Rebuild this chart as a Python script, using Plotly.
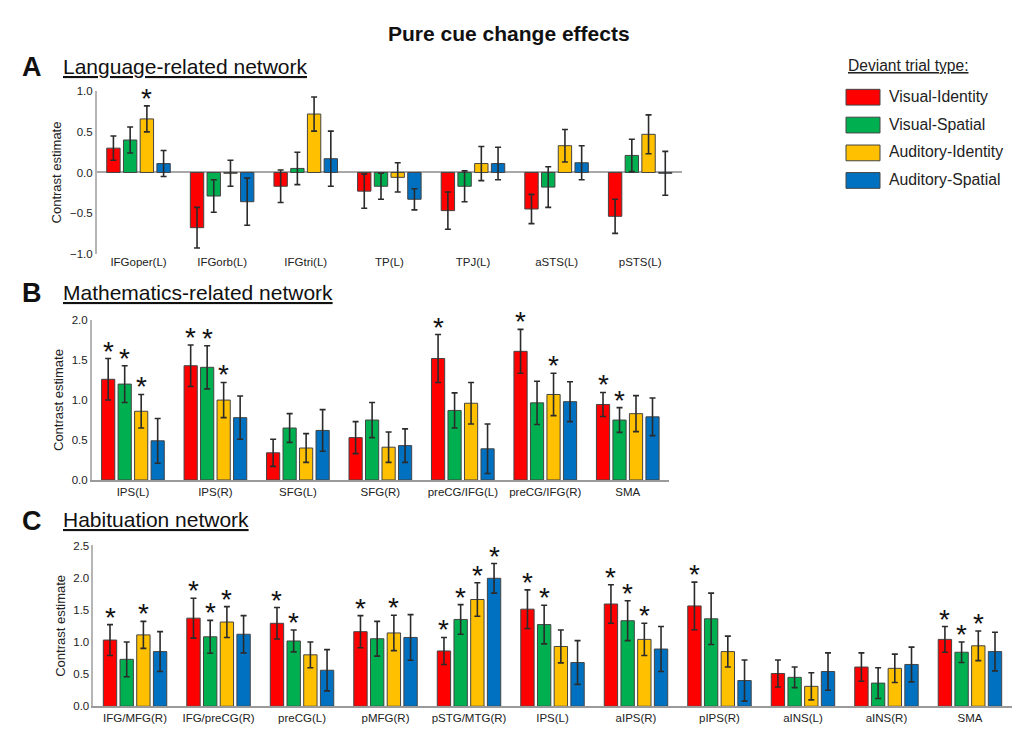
import plotly.graph_objects as go

# Deviant trial types (series) and their colours
conditions = ["Visual-Identity", "Visual-Spatial", "Auditory-Identity", "Auditory-Spatial"]
colors = ["#FF0000", "#00B050", "#FFC000", "#0070C0"]

# A: Language-related network
lang_regions = ["IFGoper(L)", "IFGorb(L)", "IFGtri(L)", "TP(L)", "TPJ(L)", "aSTS(L)", "pSTS(L)"]
lang_mean = [
    [0.30, -0.68, -0.17, -0.23, -0.47, -0.45, -0.54],
    [0.40, -0.29, 0.05, -0.17, -0.17, -0.18, 0.21],
    [0.66, -0.01, 0.72, -0.06, 0.11, 0.33, 0.47],
    [0.11, -0.36, 0.17, -0.33, 0.11, 0.12, -0.01],
]
lang_err = [
    [0.15, 0.25, 0.20, 0.21, 0.23, 0.18, 0.21],
    [0.16, 0.20, 0.20, 0.16, 0.19, 0.25, 0.20],
    [0.16, 0.16, 0.21, 0.18, 0.21, 0.20, 0.24],
    [0.16, 0.29, 0.34, 0.13, 0.20, 0.21, 0.27],
]
lang_sig = [
    [0, 0, 0, 0, 0, 0, 0],
    [0, 0, 0, 0, 0, 0, 0],
    [1, 0, 0, 0, 0, 0, 0],
    [0, 0, 0, 0, 0, 0, 0],
]

# B: Mathematics-related network
math_regions = ["IPS(L)", "IPS(R)", "SFG(L)", "SFG(R)", "preCG/IFG(L)", "preCG/IFG(R)", "SMA"]
math_mean = [
    [1.26, 1.43, 0.34, 0.53, 1.52, 1.61, 0.945],
    [1.20, 1.41, 0.65, 0.75, 0.87, 0.965, 0.75],
    [0.86, 1.00, 0.40, 0.41, 0.96, 1.07, 0.83],
    [0.49, 0.78, 0.62, 0.43, 0.39, 0.98, 0.79],
]
math_err = [
    [0.26, 0.26, 0.17, 0.20, 0.30, 0.275, 0.15],
    [0.23, 0.27, 0.18, 0.22, 0.22, 0.27, 0.155],
    [0.21, 0.22, 0.18, 0.19, 0.26, 0.265, 0.225],
    [0.28, 0.27, 0.26, 0.21, 0.31, 0.25, 0.235],
]
math_sig = [
    [1, 1, 0, 0, 1, 1, 1],
    [1, 1, 0, 0, 0, 0, 1],
    [1, 1, 0, 0, 0, 1, 0],
    [0, 0, 0, 0, 0, 0, 0],
]

# C: Habituation network
hab_regions = ["IFG/MFG(R)", "IFG/preCG(R)", "preCG(L)", "pMFG(R)", "pSTG/MTG(R)", "IPS(L)",
               "aIPS(R)", "pIPS(R)", "aINS(L)", "aINS(R)", "SMA"]
hab_mean = [
    [1.03, 1.37, 1.29, 1.16, 0.86, 1.51, 1.59, 1.56, 0.51, 0.61, 1.04],
    [0.73, 1.08, 1.015, 1.05, 1.35, 1.27, 1.33, 1.36, 0.45, 0.36, 0.84],
    [1.11, 1.31, 0.80, 1.14, 1.66, 0.93, 1.04, 0.85, 0.31, 0.59, 0.94],
    [0.85, 1.12, 0.56, 1.07, 1.99, 0.68, 0.89, 0.40, 0.54, 0.65, 0.85],
]
hab_err = [
    [0.24, 0.31, 0.245, 0.25, 0.21, 0.30, 0.30, 0.37, 0.21, 0.22, 0.20],
    [0.27, 0.255, 0.17, 0.27, 0.23, 0.30, 0.31, 0.40, 0.16, 0.24, 0.16],
    [0.21, 0.24, 0.20, 0.275, 0.26, 0.255, 0.25, 0.24, 0.21, 0.22, 0.23],
    [0.31, 0.29, 0.32, 0.355, 0.23, 0.34, 0.35, 0.32, 0.29, 0.27, 0.30],
]
hab_sig = [
    [1, 1, 1, 1, 1, 1, 1, 1, 0, 0, 1],
    [0, 1, 1, 0, 1, 1, 1, 0, 0, 0, 1],
    [1, 1, 0, 1, 1, 0, 1, 0, 0, 0, 1],
    [0, 0, 0, 0, 1, 0, 0, 0, 0, 0, 0],
]

FONT = "Arial, Liberation Sans, sans-serif"
W, H = 1020, 747
BARGAP = 0.2

panels = [
    # letter, heading, regions, means, errors, sig, y-range, x px span, y px span (top, bottom), heading y
    ("A", "Language-related network", lang_regions, lang_mean, lang_err, lang_sig,
     [-1, 1], (96.7, 682), (86.7, 251.7), 61),
    ("B", "Mathematics-related network", math_regions, math_mean, math_err, math_sig,
     [0, 2], (91.7, 669), (319.3, 481.7), 291),
    ("C", "Habituation network", hab_regions, hab_mean, hab_err, hab_sig,
     [0, 2.5], (93.3, 1011.7), (548.3, 711.7), 522),
]

fig = go.Figure()
annotations = []
shapes = []

for p, (letter, heading, regions, means, errs, sig, yr, xs, ys, head_y) in enumerate(panels):
    sfx = "" if p == 0 else str(p + 1)
    xa, ya = "x" + sfx, "y" + sfx
    for k in range(4):
        fig.add_trace(go.Bar(
            x=regions, y=means[k], name=conditions[k],
            marker=dict(color=colors[k], line=dict(color="#444444", width=1)),
            error_y=dict(type="data", array=errs[k], color="#2b2b2b", thickness=1.6, width=3),
            xaxis=xa, yaxis=ya, showlegend=False,
        ))

    # significance asterisks above the error bars of each grouped bar
    cat_px = (xs[1] - xs[0]) / len(regions)
    slot_px = cat_px * (1 - BARGAP) / 4
    for k in range(4):
        for i, r in enumerate(regions):
            if sig[k][i]:
                annotations.append(dict(
                    x=r, y=means[k][i] + errs[k][i], xref=xa, yref=ya, text="*",
                    showarrow=False, xanchor="center", yanchor="bottom",
                    xshift=(k - 1.5) * slot_px, yshift=-10,
                    font=dict(family=FONT, size=28, color="#111111"),
                ))

    fig.layout["xaxis" + sfx] = dict(
        domain=[xs[0] / W, xs[1] / W], anchor=ya, type="category",
        showline=(p != 0), linecolor="#9a9a9a", linewidth=1.5,
        ticks="", showgrid=False, zeroline=False,
        tickfont=dict(family=FONT, size=11.5, color="#222222"),
    )
    fig.layout["yaxis" + sfx] = dict(
        domain=[1 - ys[1] / H, 1 - ys[0] / H], anchor=xa, range=yr,
        dtick=0.5, tickformat=".1f", showline=True, linecolor="#b5b5b5", linewidth=1.5,
        ticks="", showgrid=False,
        zeroline=(p == 0), zerolinecolor="#a8a8a8", zerolinewidth=1.5,
        tickfont=dict(family=FONT, size=11.5, color="#222222"),
        title=dict(text="Contrast estimate", font=dict(family=FONT, size=13, color="#222222"),
                   standoff=5),
    )
    annotations.append(dict(
        x=32 / W, y=1 - (head_y + 1) / H, xref="paper", yref="paper", text="<b>%s</b>" % letter,
        showarrow=False, xanchor="center", yanchor="middle",
        font=dict(family=FONT, size=27, color="#111111"),
    ))
    annotations.append(dict(
        x=61 / W, y=1 - head_y / H, xref="paper", yref="paper", text="<u>%s</u>" % heading,
        showarrow=False, xanchor="left", yanchor="middle",
        font=dict(family=FONT, size=21, color="#111111"),
    ))

# Figure title
annotations.append(dict(
    x=509 / W, y=1 - 28 / H, xref="paper", yref="paper", text="<b>Pure cue change effects</b>",
    showarrow=False, xanchor="center", yanchor="middle",
    font=dict(family=FONT, size=21, color="#111111"),
))

# Legend block
annotations.append(dict(
    x=846 / W, y=1 - 60 / H, xref="paper", yref="paper", text="<u>Deviant trial type:</u>",
    showarrow=False, xanchor="left", yanchor="middle",
    font=dict(family=FONT, size=15.6, color="#222222"),
))
legend_y = [92.7, 121, 149.3, 177.3]
for k in range(4):
    yc = legend_y[k]
    shapes.append(dict(
        type="rect", xref="paper", yref="paper",
        x0=846 / W, x1=880 / W, y0=1 - (yc + 8) / H, y1=1 - (yc - 8) / H,
        fillcolor=colors[k], line=dict(color="#444444", width=1),
    ))
    annotations.append(dict(
        x=887 / W, y=1 - (yc - 1) / H, xref="paper", yref="paper", text=conditions[k],
        showarrow=False, xanchor="left", yanchor="middle",
        font=dict(family=FONT, size=15.8, color="#222222"),
    ))

fig.update_layout(
    width=W, height=H, margin=dict(l=0, r=0, t=0, b=0),
    paper_bgcolor="white", plot_bgcolor="white",
    barmode="group", bargap=BARGAP, bargroupgap=0.2,
    annotations=annotations, shapes=shapes, showlegend=False,
    font=dict(family=FONT),
)

fig.write_html("out.html")
